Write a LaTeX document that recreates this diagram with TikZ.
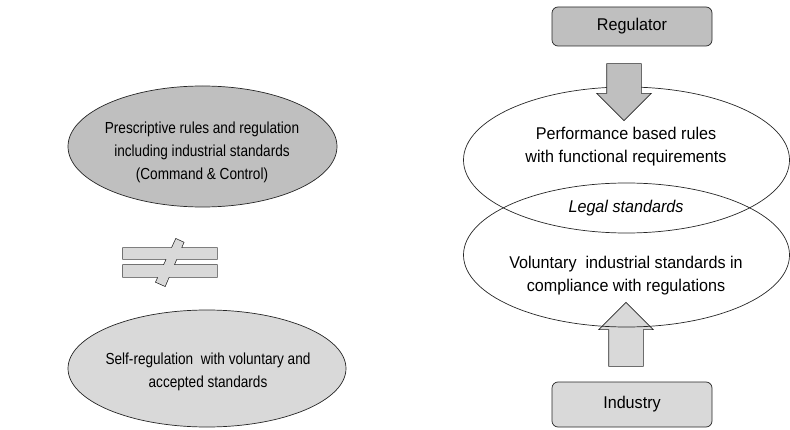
\documentclass[tikz,border=0pt]{standalone}
\usepackage{fontspec}
\setmainfont{Liberation Sans}[FakeStretch=0.95]
\newfontfamily\narrowfont{Liberation Sans}[FakeStretch=0.85]
\usetikzlibrary{shapes.geometric,shapes.arrows}

\definecolor{darkfill}{HTML}{BFBFBF}
\definecolor{lightfill}{HTML}{D9D9D9}
\definecolor{edge}{HTML}{262626}

\tikzset{
  oval/.style={ellipse, draw=edge, line width=0.7pt, inner sep=0pt},
  actor/.style={rectangle, rounded corners=6pt, draw=edge, line width=0.7pt, minimum width=160pt},
  blockarrow/.style={single arrow, draw=edge, line width=0.6pt,
    inner xsep=0pt, inner ysep=17pt, single arrow head extend=10pt,
    single arrow tip angle=90, single arrow head indent=0pt},
  txt/.style={align=center, font=\fontsize{17}{23}\selectfont},
  smalltxt/.style={align=center, font=\narrowfont\fontsize{16}{23}\selectfont}
}

\begin{document}
\begin{tikzpicture}[x=1pt,y=1pt]
\useasboundingbox (0,0) rectangle (790,429);

% left: the two regimes
\node[oval, fill=darkfill, minimum width=269pt, minimum height=121pt] (rules) at (202.5,282.5) {};
\node[smalltxt] (rulestxt) at (202,277) {Prescriptive rules and regulation\\including industrial standards\\(Command \& Control)};
\node[oval, fill=lightfill, minimum width=278pt, minimum height=117pt] (selfreg) at (207,60.5) {};
\node[smalltxt] (selfregtxt) at (208,57) {Self-regulation\ \ with voluntary and\\accepted standards};

% not equal sign, outline of the union drawn first
\path[fill=lightfill, preaction={draw=edge, line width=1.4pt}]
  (123,181) -- (217,181) -- (217,170) -- (123,170) -- cycle
  (123,164) -- (217,164) -- (217,152) -- (123,152) -- cycle
  (176,190) -- (183.5,186.5) -- (165,143) -- (156,147) -- cycle;

% right: regulator and industry meeting in legal standards
\node[blockarrow, fill=lightfill, rotate=90, minimum height=64pt] (uparrow) at (626,86) {};
\node[oval, minimum width=326pt, minimum height=146pt] (perf) at (626.5,269) {};
\node[oval, minimum width=326pt, minimum height=144pt] (volun) at (626.5,174) {};
\node[blockarrow, fill=darkfill, rotate=-90, minimum height=57pt] (downarrow) at (624,345.5) {};

\node[actor, fill=darkfill, minimum height=39pt] (reg) at (632,402.5) {};
\node[txt] at (reg) {Regulator};
\node[actor, fill=lightfill, minimum height=45pt] (ind) at (632,24.5) {};
\node[txt] at (ind) {Industry};

\node[txt] (perftxt) at (626,282) {Performance based rules\\with functional requirements};
\node[txt] (legal) at (626,221) {\itshape Legal standards};
\node[txt] (voluntxt) at (626,153) {Voluntary\ \ industrial standards in\\compliance with regulations};

\end{tikzpicture}
\end{document}
